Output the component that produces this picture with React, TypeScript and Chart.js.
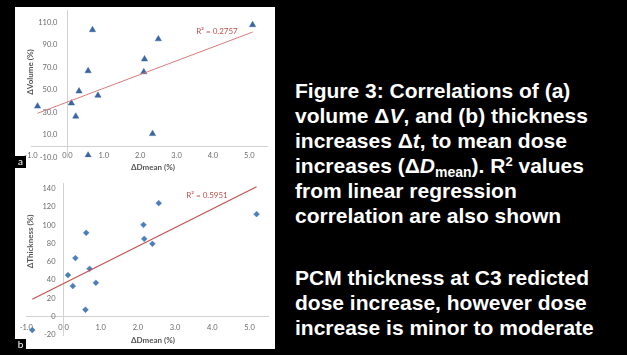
import React, { useEffect, useRef } from 'react';
import { Chart, registerables } from 'chart.js';

Chart.register(...registerables);

// ---------- data ----------
// Panel (a): ΔDmean (%) vs ΔVolume (%)
const volumeDose = [-0.82, 0.11, 0.23, 0.32, 0.57, 0.57, 0.69, 0.84, 2.10, 2.12, 2.34, 2.50, 5.09];
const volumeChange = [35.4, 38.1, 26.4, 48.8, 66.8, -8.2, 103.3, 45.0, 65.9, 77.3, 10.9, 95.2, 107.8];
// Panel (b): ΔDmean (%) vs ΔThickness (%)
const thicknessDose = [-0.84, 0.12, 0.25, 0.32, 0.59, 0.61, 0.70, 0.87, 2.15, 2.17, 2.39, 2.56, 5.19];
const thicknessChange = [-14.6, 45.4, 33.4, 64.0, 7.6, 91.6, 52.3, 37.0, 100.3, 85.0, 79.6, 124.0, 112.0];

// tick labels
const doseTicks = [-1, 0, 1, 2, 3, 4, 5];
const volumeTicks = [-10, 10, 30, 50, 70, 90, 110];
const thicknessTicks = [-20, 0, 20, 40, 60, 80, 100, 120, 140];

const volumeR2Label = 'R² = 0.2757';
const thicknessR2Label = 'R² = 0.5951';

// ---------- helpers ----------
function linearFit(xs: number[], ys: number[]) {
  const n = xs.length;
  const mx = xs.reduce((a, b) => a + b, 0) / n;
  const my = ys.reduce((a, b) => a + b, 0) / n;
  let sxy = 0, sxx = 0;
  for (let i = 0; i < n; i++) {
    sxy += (xs[i] - mx) * (ys[i] - my);
    sxx += (xs[i] - mx) * (xs[i] - mx);
  }
  const slope = sxy / sxx;
  const intercept = my - slope * mx;
  const lo = Math.min(...xs);
  const hi = Math.max(...xs);
  return [
    { x: lo, y: intercept + slope * lo },
    { x: hi, y: intercept + slope * hi },
  ];
}

const FONT = 'Lato, "Noto Sans", sans-serif';
const TICK_COLOR = '#6a6a6a';
const TITLE_COLOR = '#555555';
const AXIS_COLOR = '#d2d2d2';

interface PanelProps {
  xs: number[];
  ys: number[];
  yTicks: number[];
  yMin: number;
  yMax: number;
  yDecimals: number;
  yTitle: string;
  r2Label: string;
  pointStyle: string;
  pointRadius: number;
  pointColor: string;
  trendColor: string;
  trendWidth: number;
  top: number;
  height: number;
  padding: { left: number; right: number; top: number; bottom: number };
  xTickPadding: number;
  yLabelGap: number;
  yTitlePos: [number, number];
  xTitlePos: [number, number];
  r2Pos: [number, number];
}

function Panel(p: PanelProps) {
  const ref = useRef<HTMLCanvasElement>(null);
  useEffect(() => {
    if (!ref.current) return;
    const overlay = {
      id: 'overlayText',
      afterDraw(chart: any) {
        const ctx = chart.ctx as CanvasRenderingContext2D;
        const xs = chart.scales.x;
        const ys = chart.scales.y;
        ctx.save();
        // y tick labels next to the vertical axis (x = 0)
        const x0 = xs.getPixelForValue(0);
        ctx.font = `7.5px ${FONT}`;
        ctx.fillStyle = TICK_COLOR;
        ctx.textAlign = 'right';
        ctx.textBaseline = 'middle';
        p.yTicks.forEach((v) => {
          ctx.fillText(v.toFixed(p.yDecimals), x0 - p.yLabelGap, ys.getPixelForValue(v));
        });
        // axis titles
        ctx.font = `bold 8px ${FONT}`;
        ctx.fillStyle = TITLE_COLOR;
        ctx.textAlign = 'center';
        ctx.fillText('ΔDmean (%)', p.xTitlePos[0], p.xTitlePos[1]);
        ctx.save();
        ctx.translate(p.yTitlePos[0], p.yTitlePos[1]);
        ctx.rotate(-Math.PI / 2);
        ctx.fillText(p.yTitle, 0, 0);
        ctx.restore();
        // R² annotation
        ctx.font = `8px ${FONT}`;
        ctx.fillStyle = '#c0504d';
        ctx.fillText(p.r2Label, p.r2Pos[0], p.r2Pos[1]);
        ctx.restore();
      },
    };
    const points = p.xs.map((x, i) => ({ x, y: p.ys[i] }));
    const chart = new Chart(ref.current, {
      type: 'scatter',
      data: {
        datasets: [
          {
            data: linearFit(p.xs, p.ys),
            showLine: true,
            pointRadius: 0,
            borderColor: p.trendColor,
            borderWidth: p.trendWidth,
            fill: false,
          } as any,
          {
            data: points,
            pointStyle: p.pointStyle as any,
            pointRadius: p.pointRadius,
            backgroundColor: p.pointColor,
            borderColor: p.pointColor,
            borderWidth: 0.5,
          },
        ],
      },
      options: {
        animation: false,
        responsive: false,
        maintainAspectRatio: false,
        events: [],
        layout: { padding: p.padding },
        plugins: { legend: { display: false }, tooltip: { enabled: false } },
        scales: {
          x: {
            type: 'linear',
            min: -1,
            max: 5.5,
            position: { y: 0 } as any,
            grid: { display: false, drawTicks: false },
            border: { display: true, color: AXIS_COLOR, width: 1 },
            ticks: {
              padding: p.xTickPadding,
              color: TICK_COLOR,
              font: { family: FONT, size: 7.5 },
              maxRotation: 0,
              autoSkip: false,
              callback: (v: any) => Number(v).toFixed(1),
            },
            afterBuildTicks: (s: any) => {
              s.ticks = doseTicks.map((v) => ({ value: v }));
            },
          },
          y: {
            type: 'linear',
            min: p.yMin,
            max: p.yMax,
            position: { x: 0 } as any,
            grid: { display: false, drawTicks: false },
            border: { display: true, color: AXIS_COLOR, width: 1 },
            ticks: { display: false },
            afterBuildTicks: (s: any) => {
              s.ticks = p.yTicks.map((v) => ({ value: v }));
            },
          },
        },
      },
      plugins: [overlay],
    });
    return () => chart.destroy();
  }, []);
  return (
    <canvas
      ref={ref}
      width={275}
      height={p.height}
      style={{ position: 'absolute', left: 0, top: p.top, width: 275, height: p.height }}
    />
  );
}

const boxStyle: React.CSSProperties = {
  position: 'absolute',
  background: '#000',
  color: '#fff',
  font: `10px ${FONT}`,
  lineHeight: '11px',
  textAlign: 'center',
  width: 11,
  height: 12,
};

export default function App() {
  return (
    <div
      style={{
        position: 'fixed',
        left: 0,
        top: 0,
        width: 627,
        height: 355,
        background: '#000',
        overflow: 'hidden',
      }}
    >
      <div style={{ position: 'absolute', left: 15, top: 7, width: 260, height: 342, background: '#fff' }} />
      <Panel
        xs={volumeDose}
        ys={volumeChange}
        yTicks={volumeTicks}
        yMin={-10}
        yMax={121}
        yDecimals={1}
        yTitle="ΔVolume (%)"
        r2Label={volumeR2Label}
        pointStyle="triangle"
        pointRadius={3.6}
        pointColor="#3a64a3"
        trendColor="#d66d6b"
        trendWidth={0.9}
        top={0}
        height={172}
        padding={{ left: 31, right: 7.5, top: 10, bottom: 14.7 }}
        xTickPadding={5}
        yLabelGap={10}
        yTitlePos={[30, 72]}
        xTitlePos={[153, 167.5]}
        r2Pos={[217, 31]}
      />
      <Panel
        xs={thicknessDose}
        ys={thicknessChange}
        yTicks={thicknessTicks}
        yMin={-20}
        yMax={146}
        yDecimals={0}
        yTitle="ΔThickness (%)"
        r2Label={thicknessR2Label}
        pointStyle="rectRot"
        pointRadius={2.9}
        pointColor="#4a7dba"
        trendColor="#c8504d"
        trendWidth={1.2}
        top={172}
        height={183}
        padding={{ left: 26.3, right: 6.9, top: 11, bottom: 20 }}
        xTickPadding={6}
        yLabelGap={8}
        yTitlePos={[30.5, 69.5]}
        xTitlePos={[153, 168]}
        r2Pos={[207, 23]}
      />
      <div style={{ ...boxStyle, left: 15, top: 156 }}>a</div>
      <div style={{ ...boxStyle, left: 15, top: 339 }}>b</div>
      <div
        style={{
          position: 'absolute',
          left: 295,
          top: 77.7,
          color: '#fff',
          font: 'bold 21px/25px "Liberation Sans", Arial, sans-serif',
          whiteSpace: 'nowrap',
        }}
      >
        Figure 3: Correlations of (a)
        <br />
        volume Δ<i>V</i>, and (b) thickness
        <br />
        increases Δ<i>t</i>, to mean dose
        <br />
        increases (Δ<i>D</i>
        <span style={{ fontSize: 14, position: 'relative', top: 4, lineHeight: 0 }}>mean</span>). R
        <span style={{ fontSize: 13, position: 'relative', top: -7, lineHeight: 0 }}>2</span> values
        <br />
        from linear regression
        <br />
        correlation are also shown
      </div>
      <div
        style={{
          position: 'absolute',
          left: 295,
          top: 265.3,
          color: '#fff',
          font: 'bold 21px/25px "Liberation Sans", Arial, sans-serif',
          whiteSpace: 'nowrap',
        }}
      >
        PCM thickness at C3 redicted
        <br />
        dose increase, however dose
        <br />
        increase is minor to moderate
      </div>
    </div>
  );
}
